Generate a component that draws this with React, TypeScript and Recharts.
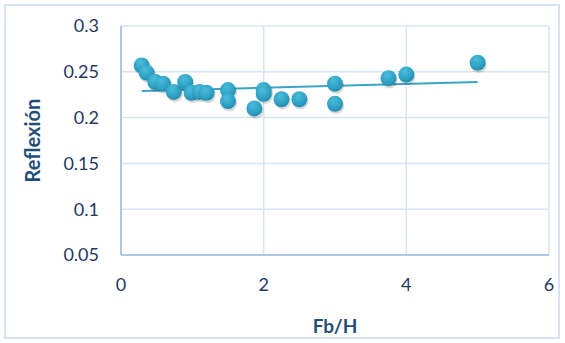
import React from 'react';
import { ScatterChart, Scatter, XAxis, YAxis, CartesianGrid } from 'recharts';

// values
const fbH = [0.29, 0.36, 0.48, 0.59, 0.74, 0.9, 0.99, 1.1, 1.2, 1.5, 1.5, 1.87, 2.0, 2.0, 2.25, 2.5, 3.0, 3.0, 3.75, 4.0, 5.0];
const reflexion = [0.257, 0.249, 0.239, 0.237, 0.228, 0.239, 0.227, 0.228, 0.227, 0.23, 0.218, 0.21, 0.23, 0.226, 0.22, 0.22, 0.237, 0.215, 0.243, 0.247, 0.26];
const trendX = [0.29, 5.0];
const trendY = [0.229, 0.239];
const xTicks = [0, 2, 4, 6];
const yTicks = [0.05, 0.1, 0.15, 0.2, 0.25, 0.3];

const points = fbH.map((x, i) => ({ x, y: reflexion[i] }));
const trend = trendX.map((x, i) => ({ x, y: trendY[i] }));

const navy = '#1F3864';
const font = 'Lato, "Open Sans", sans-serif';

const Bubble = (props: any) => {
  const { cx, cy } = props;
  if (cx == null || cy == null) return <g />;
  return (
    <g>
      <defs>
        <radialGradient id="bub" cx="40%" cy="30%" r="75%">
          <stop offset="0%" stopColor="#4DBBD9" />
          <stop offset="60%" stopColor="#2FA3C6" />
          <stop offset="100%" stopColor="#2288AA" />
        </radialGradient>
      </defs>
      <circle cx={cx + 1} cy={cy + 2} r={8.2} fill="#000" fillOpacity={0.15} />
      <circle cx={cx} cy={cy} r={8} fill="url(#bub)" />
    </g>
  );
};

const App = () => {
  return (
    <div style={{ position: 'absolute', left: 0, top: 0, width: 565, height: 343 }}>
      <div
        style={{
          position: 'absolute',
          left: 4,
          top: 4,
          width: 556,
          height: 335,
          border: '2px solid #D6E3F3',
          boxSizing: 'border-box',
        }}
      />
      <ScatterChart width={565} height={343} margin={{ top: 26, right: 16, bottom: 0, left: 0 }}>
        <CartesianGrid stroke="#D9E4F2" strokeWidth={1.5} />
        <XAxis
          type="number"
          dataKey="x"
          domain={[0, 6]}
          ticks={xTicks}
          height={88}
          tickSize={0}
          tickMargin={23}
          tick={{ fill: navy, fontSize: 18, fontFamily: font }}
          axisLine={{ stroke: '#9DBBE3', strokeWidth: 1.5 }}
          label={{ value: 'Fb/H', position: 'insideBottom', offset: 10, fill: '#1F4E79', fontSize: 19, fontWeight: 'bold', fontFamily: font }}
        />
        <YAxis
          type="number"
          dataKey="y"
          domain={[0.05, 0.3]}
          ticks={yTicks}
          width={121}
          tickSize={0}
          tickMargin={22}
          tick={{ fill: navy, fontSize: 18, fontFamily: font }}
          axisLine={{ stroke: '#9DBBE3', strokeWidth: 1.5 }}
          label={{ value: 'Reflexión', angle: -90, position: 'insideLeft', offset: 33, fill: '#1F4E79', fontSize: 20, fontWeight: 'bold', fontFamily: font, style: { textAnchor: 'middle' } }}
        />
        <Scatter data={trend} line={{ stroke: '#3AA5C6', strokeWidth: 2 }} shape={() => <g />} isAnimationActive={false} />
        <Scatter data={points} shape={Bubble} isAnimationActive={false} />
      </ScatterChart>
    </div>
  );
};

export default App;
